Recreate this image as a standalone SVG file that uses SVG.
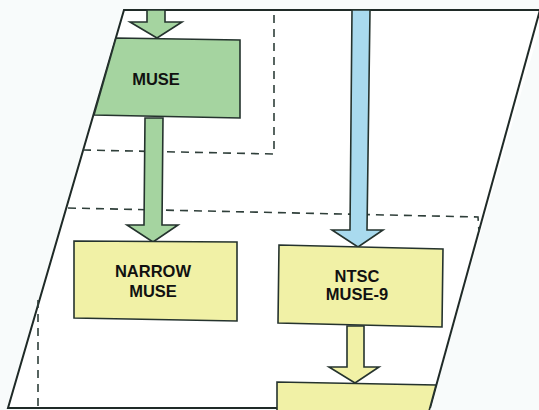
<svg xmlns="http://www.w3.org/2000/svg" width="539" height="410" viewBox="0 0 539 410">
<style>
.frame{fill:#ffffff;stroke:#1f2a27;stroke-width:2;stroke-linejoin:miter}
.dash{fill:none;stroke:#2f3f3a;stroke-width:1.6;stroke-dasharray:8,6}
.box{stroke:#25332e;stroke-width:1.6;stroke-linejoin:miter}
.green{fill:#a5d4a0}
.yellow{fill:#f1f1a6}
.blue{fill:#a9daee}
.lbl{font-family:"Liberation Sans",Arial,sans-serif;font-weight:bold;font-size:16.5px;fill:#111;text-anchor:middle}
</style>
<rect width="539" height="410" fill="#f8fbfb"/>
<g id="frame">
<polygon points="124,10 545,10 430,408 8,408" fill="#ffffff" stroke="none"/>
<polyline class="frame" fill="none" points="545,10 124,10 8,408 280,408"/>
<line class="frame" x1="540" y1="10" x2="430" y2="408"/>
</g>
<g id="regions">
<polyline class="dash" points="83,150 274,154 274,12"/>
<polyline class="dash" points="68,208 478,217 479,232"/>
<line class="dash" x1="38" y1="300" x2="38" y2="407"/>
</g>
<g id="connectors">
<polygon class="box green" points="147,10 165,10 165,22 182,22 157,38 130,22 147,22"/>
<polygon class="box green" points="145,118 163,118 162,225 178,225 153,242 127,225 144,225"/>
<polygon class="box blue" points="352,10 370,10 367,230 383,230 358,247 332,230 350,230"/>
<polygon class="box yellow" points="347,326 364,326 364,367 379,367 355,383 329,367 347,367"/>
</g>
<g id="muse">
<polygon class="box green" points="116,38 240,40 240,118 94,115"/>
<text class="lbl" x="156" y="85">MUSE</text>
</g>
<g id="narrow-muse">
<polygon class="box yellow" points="74,241 237,242 237,321 74,318"/>
<text class="lbl" x="153" y="277">NARROW</text>
<text class="lbl" x="153" y="297">MUSE</text>
</g>
<g id="ntsc-muse9">
<polygon class="box yellow" points="279,245 443,249 442,327 278,323"/>
<text class="lbl" x="357" y="282">NTSC</text>
<text class="lbl" x="357" y="300">MUSE-9</text>
</g>
<g id="bottom-box">
<polygon class="yellow" points="277,382 436,385 429,411 277,411"/>
<polyline class="box" fill="none" points="277,411 277,382 436,385 429,411"/>
</g>
</svg>
